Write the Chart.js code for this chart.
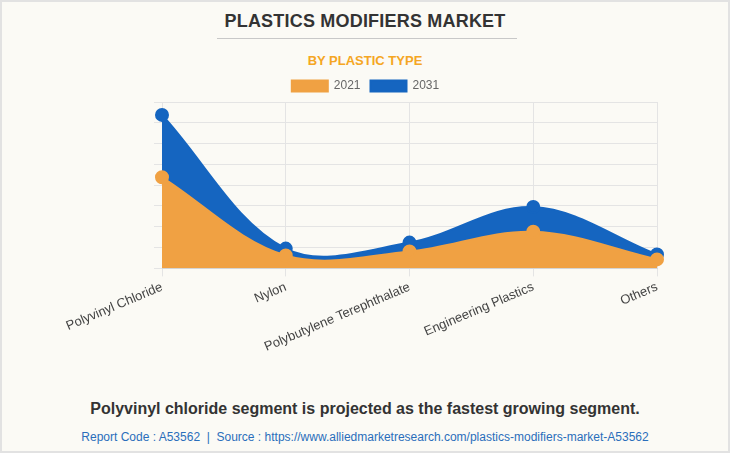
<!DOCTYPE html>
<html>
<head>
<meta charset="utf-8">
<script src="https://cdn.jsdelivr.net/npm/chart.js@4/dist/chart.umd.min.js"></script>
<style>
  html, body { margin: 0; padding: 0; }
  body {
    width: 730px; height: 453px; background: #fbfaf5;
    font-family: "Liberation Sans", Arial, sans-serif;
    position: relative; overflow: hidden;
    box-sizing: border-box; border: 2px solid #e2e2e2;
  }
  .title {
    position: absolute; left: 0; right: 0; top: 9px; text-align: center;
    font-size: 18px; font-weight: bold; color: #333; letter-spacing: 0.2px;
  }
  .rule { position: absolute; left: 215px; width: 300px; top: 36px; border-top: 1px solid #c8c8c8; }
  .sub {
    position: absolute; left: 0; right: 0; top: 51px; text-align: center;
    font-size: 13px; font-weight: bold; color: #f5a623;
  }
  .wrap { position: absolute; left: 0; top: 68px; width: 726px; height: 288px; }
  .note {
    position: absolute; left: 0; right: 0; top: 398px; text-align: center;
    font-size: 16px; font-weight: bold; color: #333;
  }
  .src {
    position: absolute; left: 0; right: 0; top: 428px; text-align: center;
    font-size: 12px; color: #2a6ebb;
  }
</style>
</head>
<body>
<div class="title">PLASTICS MODIFIERS MARKET</div>
<div class="rule"></div>
<div class="sub">BY PLASTIC TYPE</div>
<div class="wrap"><canvas id="chart"></canvas></div>
<div class="note">Polyvinyl chloride segment is projected as the fastest growing segment.</div>
<div class="src">Report Code : A53562&nbsp; | &nbsp;Source : https://www.alliedmarketresearch.com/plastics-modifiers-market-A53562</div>

<script>
const categories = ['Polyvinyl Chloride', 'Nylon', 'Polybutylene Terephthalate', 'Engineering Plastics', 'Others'];
const values2021 = [4.38, 0.62, 0.81, 1.76, 0.43];
const values2031 = [7.38, 0.95, 1.24, 2.95, 0.67];

const orange = '#f0a143';
const blue = '#1565c0';

new Chart(document.getElementById('chart'), {
  type: 'line',
  data: {
    labels: categories,
    datasets: [
      {
        label: '2021',
        data: values2021,
        borderColor: orange,
        backgroundColor: orange,
        pointBackgroundColor: orange,
        fill: 'origin',
        tension: 0.35,
        borderWidth: 2,
        pointRadius: 6,
        order: 1
      },
      {
        label: '2031',
        data: values2031,
        borderColor: blue,
        backgroundColor: blue,
        pointBackgroundColor: blue,
        fill: 'origin',
        tension: 0.35,
        borderWidth: 2,
        pointRadius: 6,
        order: 2
      }
    ]
  },
  options: {
    responsive: true,
    maintainAspectRatio: false,
    animation: false,
    layout: { padding: { left: 72, right: 71, top: 0, bottom: 0 } },
    plugins: {
      legend: {
        labels: {
          boxWidth: 36, boxHeight: 11, color: '#666',
          font: { family: '"Liberation Sans", Arial, sans-serif', size: 12 }
        }
      },
      tooltip: { enabled: false }
    },
    scales: {
      x: {
        grid: { color: '#e4e4e4' },
        border: { color: '#d8d8d8' },
        ticks: {
          color: '#444', minRotation: 23, maxRotation: 23,
          font: { family: '"Liberation Sans", Arial, sans-serif', size: 13 }
        }
      },
      y: {
        min: 0, max: 8,
        ticks: { display: false, stepSize: 1 },
        grid: { color: '#e4e4e4' },
        border: { display: false },
        afterFit: (scale) => { scale.width = 88; }
      }
    }
  }
});
</script>
</body>
</html>
